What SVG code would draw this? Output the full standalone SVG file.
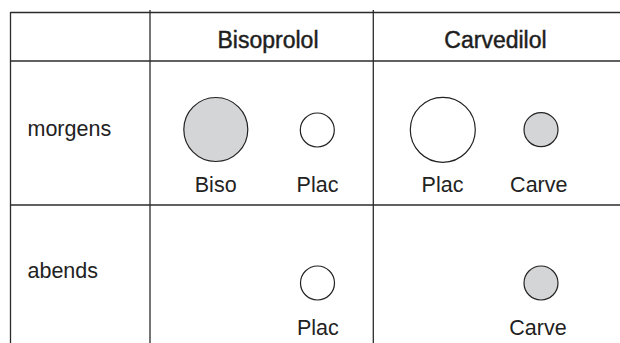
<svg xmlns="http://www.w3.org/2000/svg" width="620" height="343" viewBox="0 0 620 343">
  <style>
    .grid { stroke: #2b2b2b; stroke-width: 1.3; fill: none; }
    .lbl { font-family: "Liberation Sans", Arial, Helvetica, sans-serif; font-size: 21.5px; fill: #222; }
    .head { font-family: "Liberation Sans", Arial, Helvetica, sans-serif; font-size: 23px; fill: #1e1e1e; stroke: #1e1e1e; stroke-width: 0.45; text-anchor: middle; }
    .mid { text-anchor: middle; }
    .dose { stroke: #222; stroke-width: 1.2; }
    .active { fill: #d4d5d7; }
    .placebo { fill: #ffffff; }
  </style>
  <rect width="620" height="343" fill="#ffffff"/>

  <!-- table rules -->
  <g id="connectors" class="grid">
    <line x1="10.5" y1="12.5" x2="620" y2="12.5"/>
    <line x1="10.5" y1="61" x2="620" y2="61"/>
    <line x1="10.5" y1="205" x2="620" y2="205"/>
    <line x1="10.5" y1="12" x2="10.5" y2="343"/>
    <line x1="150" y1="10" x2="150" y2="343"/>
    <line x1="373.3" y1="10" x2="373.3" y2="343"/>
  </g>

  <!-- column headers -->
  <g id="hdr-bisoprolol"><text class="head" x="268" y="47.5">Bisoprolol</text></g>
  <g id="hdr-carvedilol"><text class="head" x="495.5" y="47.5">Carvedilol</text></g>

  <!-- row headers -->
  <g id="row-morgens"><text class="lbl" x="27.5" y="135.5">morgens</text></g>
  <g id="row-abends"><text class="lbl" x="27.5" y="277.5">abends</text></g>

  <!-- morning doses -->
  <g id="m-biso">
    <circle class="dose active" cx="215.8" cy="129.5" r="32"/>
    <text class="lbl mid" x="215.7" y="191.5">Biso</text>
  </g>
  <g id="m-plac-1">
    <circle class="dose placebo" cx="317.3" cy="130" r="17"/>
    <text class="lbl mid" x="317.5" y="191.5">Plac</text>
  </g>
  <g id="m-plac-2">
    <circle class="dose placebo" cx="442.8" cy="129.8" r="32.5"/>
    <text class="lbl mid" x="442.5" y="191.5">Plac</text>
  </g>
  <g id="m-carve">
    <circle class="dose active" cx="541" cy="129.7" r="17"/>
    <text class="lbl mid" x="538.8" y="191.5">Carve</text>
  </g>

  <!-- evening doses -->
  <g id="a-plac">
    <circle class="dose placebo" cx="317.5" cy="283" r="17"/>
    <text class="lbl mid" x="317.8" y="335">Plac</text>
  </g>
  <g id="a-carve">
    <circle class="dose active" cx="541" cy="283" r="17"/>
    <text class="lbl mid" x="538" y="335">Carve</text>
  </g>
</svg>
